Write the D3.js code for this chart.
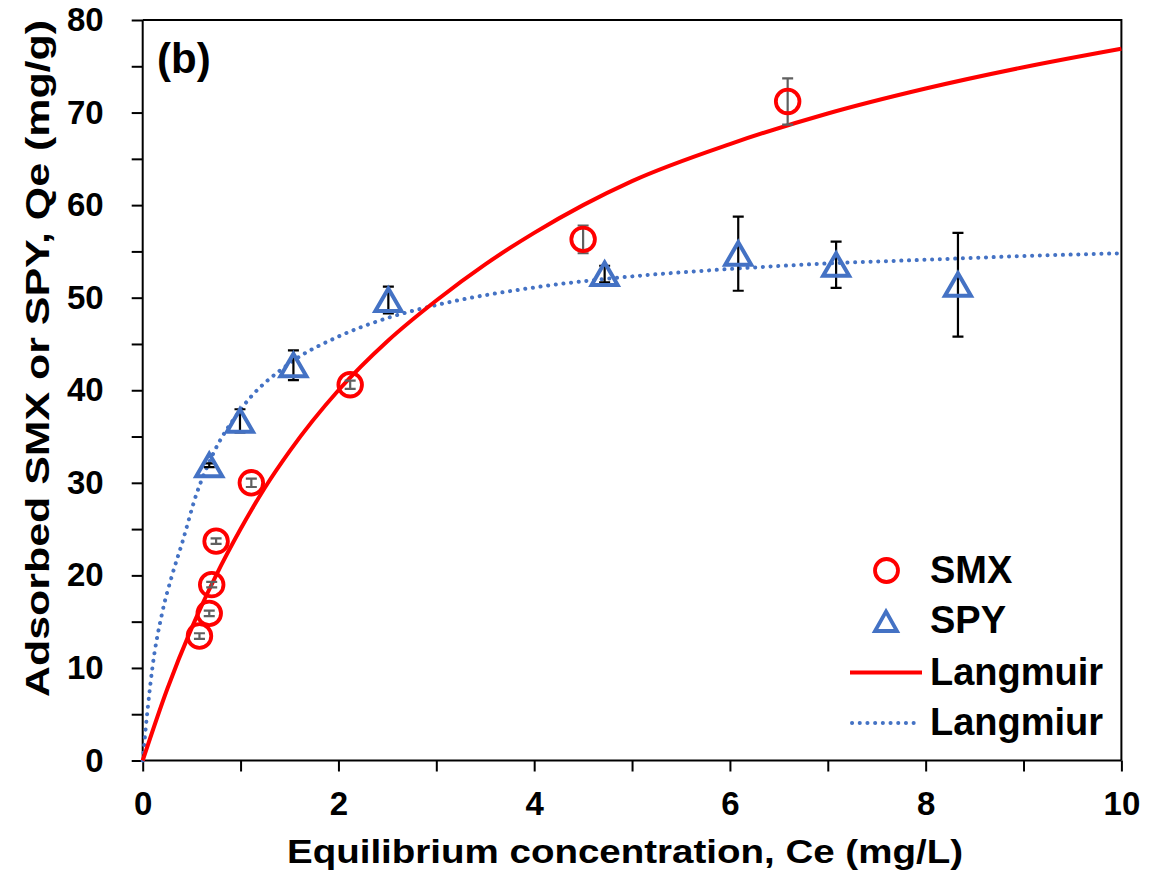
<!DOCTYPE html>
<html>
<head>
<meta charset="utf-8">
<script src="https://cdn.jsdelivr.net/npm/d3@7"></script>
<style>
  html, body { margin: 0; padding: 0; background: #fff; }
  svg text { font-family: "Liberation Sans", Arial, sans-serif; font-weight: bold; fill: #000; }
</style>
</head>
<body>
<svg id="chart" width="1153" height="880"></svg>
<script>
// Adsorption isotherm data: equilibrium concentration Ce (mg/L) vs. adsorbed amount Qe (mg/g)
const smxCe  = [0.58, 0.68, 0.705, 0.75, 1.11, 2.12, 4.50, 6.59];
const smxQe  = [13.45, 15.9, 19.0, 23.7, 30.0, 40.6, 56.3, 71.2];
const smxErr = [0.3, 0.3, 0.3, 0.3, 0.45, 0.45, 1.5, 2.5];

const spyCe  = [0.68, 0.994, 1.54, 2.51, 4.72, 6.085, 7.085, 8.33];
const spyQe  = [31.9, 36.7, 42.7, 49.75, 52.55, 54.75, 53.55, 51.4];
const spyErr = [0.2, 1.25, 1.6, 1.45, 0.9, 4.0, 2.5, 5.6];

// Langmuir fit curves
const smxFitCe = [0, 0.25, 0.5, 0.75, 1, 1.25, 1.5, 2, 2.5, 3, 3.5, 4, 4.5, 5, 6, 7, 8, 9, 10];
const smxFitQe = [0, 7.7, 14.3, 20.0, 25.0, 29.5, 33.4, 40.0, 45.3, 49.7, 53.6, 57.0, 60.0, 62.6, 66.6, 69.9, 72.6, 74.9, 76.9];
const spyFitCe = [0, 0.05, 0.1, 0.2, 0.3, 0.4, 0.55, 0.7, 1.0, 1.5, 2, 2.5, 3, 4, 5, 6, 7, 8, 9, 10];
const spyFitQe = [0, 5.5, 10.1, 16.0, 20.0, 23.4, 28.8, 32.7, 37.9, 42.9, 45.8, 47.8, 49.2, 51.1, 52.3, 53.1, 53.7, 54.1, 54.5, 54.8];

const xTicks = [0, 1, 2, 3, 4, 5, 6, 7, 8, 9, 10];
const yTicks = [0, 5, 10, 15, 20, 25, 30, 35, 40, 45, 50, 55, 60, 65, 70, 75, 80];

const legendLabels = ["SMX", "SPY", "Langmuir", "Langmiur"];
const panelLabel = "(b)";
const xTitle = "Equilibrium concentration, Ce (mg/L)";
const yTitle = "Adsorbed SMX or SPY, Qe (mg/g)";

const RED = "#ff0000";
const BLUE = "#4472c4";

const svg = d3.select("#chart");
const plotLeft = 142.7, plotRight = 1121.4, plotTop = 20, plotBottom = 760.5;

const x = d3.scaleLinear().domain([0, 10]).range([plotLeft, plotRight]);
const y = d3.scaleLinear().domain([0, 80]).range([plotBottom, plotTop]);

svg.append("rect").attr("width", 1153).attr("height", 880).attr("fill", "#fff");

// Frame (top and right edges)
svg.append("path")
  .attr("d", `M${plotLeft},${plotTop}H${plotRight}V${plotBottom}`)
  .attr("fill", "none").attr("stroke", "#000").attr("stroke-width", 2);

// Axes
const xAxis = svg.append("g")
  .attr("transform", `translate(0,${plotBottom})`)
  .call(d3.axisBottom(x).tickValues(xTicks).tickSize(11).tickPadding(20)
    .tickFormat(d => d % 2 === 0 ? d3.format("d")(d) : ""));
const yAxis = svg.append("g")
  .attr("transform", `translate(${plotLeft},0)`)
  .call(d3.axisLeft(y).tickValues(yTicks).tickSize(11).tickPadding(28)
    .tickFormat(d => d % 10 === 0 ? d3.format("d")(d) : ""));

[xAxis, yAxis].forEach(g => {
  g.select(".domain").attr("stroke", "#000").attr("stroke-width", 2);
  g.selectAll(".tick line").attr("stroke", "#000").attr("stroke-width", 2);
  g.selectAll(".tick text")
    .attr("font-family", "Liberation Sans, Arial, sans-serif")
    .attr("font-weight", "bold").attr("font-size", 33).attr("fill", "#000");
});
yAxis.select(".domain").attr("d", `M0,${plotTop}V${plotBottom}`);
xAxis.select(".domain").attr("d", `M${plotLeft},0H${plotRight}`);

// Fitted curves
const line = d3.line().x(d => x(d[0])).y(d => y(d[1])).curve(d3.curveMonotoneX);

svg.append("path")
  .datum(d3.zip(spyFitCe, spyFitQe))
  .attr("d", line)
  .attr("fill", "none").attr("stroke", BLUE).attr("stroke-width", 4)
  .attr("stroke-linecap", "round").attr("stroke-dasharray", "0.1 7.6");

svg.append("path")
  .datum(d3.zip(smxFitCe, smxFitQe))
  .attr("d", line)
  .attr("fill", "none").attr("stroke", RED).attr("stroke-width", 4);

// Error bars
function errorBars(ce, qe, err, color) {
  const data = d3.zip(ce, qe, err);
  const g = svg.append("g").attr("stroke", color).attr("stroke-width", 2.2).attr("fill", "none");
  g.selectAll("path").data(data).join("path")
    .attr("d", d => {
      const cx = x(d[0]), y1 = y(d[1] + d[2]), y0 = y(d[1] - d[2]), w = 5.5;
      return `M${cx},${y1}V${y0}M${cx - w},${y1}H${cx + w}M${cx - w},${y0}H${cx + w}`;
    });
}
errorBars(smxCe, smxQe, smxErr, "#606060");
errorBars(spyCe, spyQe, spyErr, "#000");

// Markers
const triPath = "M0,-11.5L13,11L-13,11Z";

svg.append("g").selectAll("circle").data(d3.zip(smxCe, smxQe)).join("circle")
  .attr("cx", d => x(d[0])).attr("cy", d => y(d[1])).attr("r", 11.8)
  .attr("fill", "none").attr("stroke", RED).attr("stroke-width", 3.8);

svg.append("g").selectAll("path").data(d3.zip(spyCe, spyQe)).join("path")
  .attr("transform", d => `translate(${x(d[0])},${y(d[1])})`)
  .attr("d", triPath)
  .attr("fill", "none").attr("stroke", BLUE).attr("stroke-width", 4)
  .attr("stroke-linejoin", "miter");

// Legend
const legend = svg.append("g");
const lgTextX = 930;
const lgBase = [583, 633, 685, 735];
legend.append("circle").attr("cx", 886.5).attr("cy", 570.5).attr("r", 11.5)
  .attr("fill", "none").attr("stroke", RED).attr("stroke-width", 3.8);
legend.append("path").attr("transform", "translate(886,621.5)").attr("d", "M0,-10L11,9.5L-11,9.5Z")
  .attr("fill", "none").attr("stroke", BLUE).attr("stroke-width", 3.8);
legend.append("line").attr("x1", 850).attr("x2", 922).attr("y1", 672.5).attr("y2", 672.5)
  .attr("stroke", RED).attr("stroke-width", 4);
legend.append("line").attr("x1", 852).attr("x2", 920).attr("y1", 723).attr("y2", 723)
  .attr("stroke", BLUE).attr("stroke-width", 4)
  .attr("stroke-linecap", "round").attr("stroke-dasharray", "0.1 7.6");
legend.selectAll("text").data(legendLabels).join("text")
  .attr("x", lgTextX).attr("y", (d, i) => lgBase[i])
  .attr("font-size", 38)
  .text(d => d);

// Panel label
svg.append("text").attr("x", 157).attr("y", 73).attr("font-size", 42).text(panelLabel);

// Axis titles
svg.append("text")
  .attr("x", 287).attr("y", 863)
  .attr("font-size", 34)
  .attr("textLength", 676).attr("lengthAdjust", "spacingAndGlyphs")
  .text(xTitle);

svg.append("text")
  .attr("transform", "translate(49,358.5) rotate(-90)")
  .attr("text-anchor", "middle")
  .attr("font-size", 34)
  .attr("textLength", 677).attr("lengthAdjust", "spacingAndGlyphs")
  .text(yTitle);
</script>
</body>
</html>
